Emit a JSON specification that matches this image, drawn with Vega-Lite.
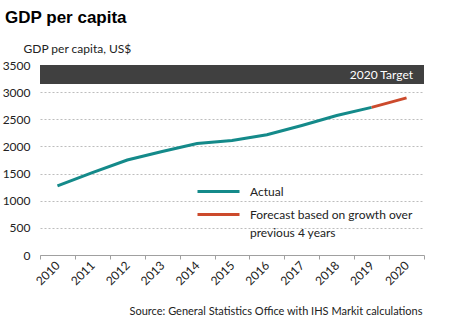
{
  "$schema": "https://vega.github.io/schema/vega-lite/v6.json",
  "width": 384,
  "height": 190,
  "autosize": {"type": "none"},
  "padding": {"left": 40, "top": 65, "right": 25, "bottom": 81},
  "background": "white",
  "title": {
    "text": "GDP per capita",
    "anchor": "start",
    "frame": "group",
    "font": "Liberation Sans",
    "fontSize": 17,
    "fontWeight": "bold",
    "color": "#000000",
    "dx": -35,
    "offset": 15
  },
  "config": {
    "view": {"stroke": null},
    "font": "Lato",
    "style": {"guide-label": {"lineHeight": 18}},
    "axisY": {
      "title": "GDP per capita, US$",
      "titleAngle": 0,
      "titleAlign": "left",
      "titleBaseline": "alphabetic",
      "titleX": -17,
      "titleY": -13,
      "titleFont": "Lato",
      "titleFontSize": 12,
      "titleFontWeight": "normal",
      "titleColor": "#222222",
      "values": [0, 500, 1000, 1500, 2000, 2500, 3000, 3500],
      "format": "d",
      "labelOverlap": false,
      "domain": false,
      "ticks": false,
      "labelPadding": 10,
      "labelFontSize": 12,
      "labelColor": "#222222",
      "gridColor": "#bdbdbd",
      "gridDash": [2, 2],
      "gridWidth": 1
    },
    "axisX": {
      "titleFont": "Lato",
      "titleFontSize": 11,
      "titleFontWeight": "normal",
      "titleColor": "#222222",
      "titleAlign": "right",
      "titleAnchor": "end",
      "titleX": 382,
      "titleY": 50,
      "tickBand": "extent",
      "labelAngle": -45,
      "labelAlign": "right",
      "labelBaseline": "middle",
      "labelFontSize": 12,
      "labelColor": "#222222",
      "labelPadding": 4,
      "domainColor": "#a0a0a0",
      "tickColor": "#a0a0a0",
      "tickSize": 4,
      "grid": false
    }
  },
  "datasets": {
    "gdp": [
      {"year": "2010", "value": 1273, "series": "Actual"},
      {"year": "2011", "value": 1517, "series": "Actual"},
      {"year": "2012", "value": 1749, "series": "Actual"},
      {"year": "2013", "value": 1908, "series": "Actual"},
      {"year": "2014", "value": 2052, "series": "Actual"},
      {"year": "2015", "value": 2109, "series": "Actual"},
      {"year": "2016", "value": 2215, "series": "Actual"},
      {"year": "2017", "value": 2385, "series": "Actual"},
      {"year": "2018", "value": 2570, "series": "Actual"},
      {"year": "2019", "value": 2720, "series": "Actual"},
      {"year": "2019", "value": 2720, "series": "Forecast based on growth over previous 4 years"},
      {"year": "2020", "value": 2895, "series": "Forecast based on growth over previous 4 years"}
    ],
    "target": [
      {"year": "2020", "low": 3150, "high": 3500, "mid": 3325, "label": "2020 Target"}
    ]
  },
  "layer": [
    {
      "data": {"name": "gdp"},
      "mark": {"type": "line", "strokeWidth": 3},
      "encoding": {
        "x": {
          "field": "year",
          "type": "ordinal",
          "bandPosition": 0.5,
          "scale": {"type": "band", "paddingInner": 0, "paddingOuter": 0},
          "title": "Source: General Statistics Office with IHS Markit calculations"
        },
        "y": {
          "field": "value",
          "type": "quantitative",
          "scale": {"domain": [0, 3500], "nice": false},
          "title": "GDP per capita, US$"
        },
        "color": {
          "field": "series",
          "type": "nominal",
          "scale": {
            "domain": ["Actual", "Forecast based on growth over previous 4 years"],
            "range": ["#148a8a", "#cc4a2c"]
          },
          "legend": {
            "title": null,
            "orient": "none",
            "legendX": 156,
            "legendY": 104,
            "gridAlign": "none",
            "symbolType": "stroke",
            "symbolSize": 1764,
            "symbolStrokeWidth": 3,
            "labelFontSize": 12,
            "labelColor": "#222222",
            "labelOffset": 9,
            "labelLimit": 300,
            "rowPadding": -6,
            "labelExpr": "datum.label == 'Actual' ? 'Actual' : ['Forecast based on growth over', 'previous 4 years']"
          }
        }
      }
    },
    {
      "data": {"name": "target"},
      "mark": {"type": "rect", "color": "#404040"},
      "encoding": {
        "y": {"field": "low", "type": "quantitative", "title": "GDP per capita, US$"},
        "y2": {"field": "high"}
      }
    },
    {
      "data": {"name": "target"},
      "mark": {"type": "text", "color": "white", "align": "right", "baseline": "middle", "fontSize": 12, "dx": -11},
      "encoding": {
        "x": {"field": "year", "type": "ordinal", "bandPosition": 1, "title": "Source: General Statistics Office with IHS Markit calculations"},
        "y": {"field": "mid", "type": "quantitative", "title": "GDP per capita, US$"},
        "text": {"field": "label"}
      }
    }
  ]
}
